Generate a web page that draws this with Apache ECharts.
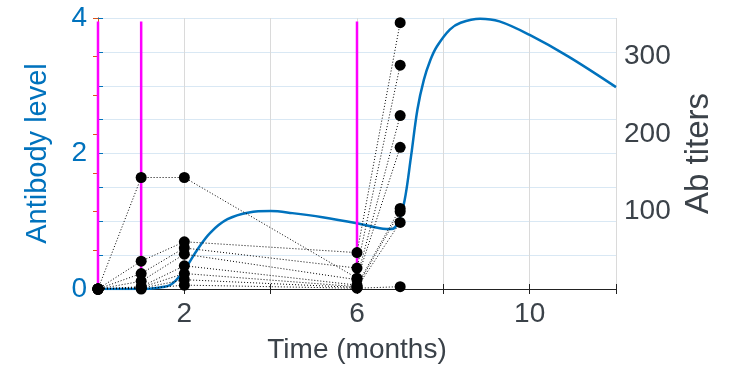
<!DOCTYPE html>
<html>
<head>
<meta charset="utf-8">
<script src="https://cdn.jsdelivr.net/npm/echarts@6/dist/echarts.min.js"></script>
<style>
html, body { margin: 0; padding: 0; background: #fff; }
#chartDom { width: 731px; height: 370px; }
</style>
</head>
<body>
<div id="chartDom"></div>
<script>
// 模型曲线 (左轴 Antibody level)
const modelT = [0, 1.0, 1.4, 1.7, 2.0, 2.3, 2.6, 3.0, 3.5, 4.0, 4.5, 5.2, 6.0, 6.6, 6.8, 6.95, 7.1, 7.25, 7.4, 7.55, 7.7, 7.85, 8.15, 8.4, 8.85, 9.3, 10.0, 10.9, 12.0];
const modelY = [0, 0, 0.02, 0.07, 0.28, 0.58, 0.83, 1.03, 1.13, 1.15, 1.12, 1.06, 0.97, 0.89, 0.885, 0.98, 1.3, 1.95, 2.65, 3.09, 3.38, 3.58, 3.83, 3.93, 3.99, 3.95, 3.75, 3.43, 2.98];

// 接种时间 (洋红竖线)
const doseTimes = [0, 1, 6];
const doseTop = 3.95;

// 抗体滴度 (右轴 Ab titers)
const sampleT = [0, 1, 2, 6, 7];
const titerS1 = [0, 144, 144, 14, 224];
const titerS2 = [0, 36, 61, 47, 344];
const titerS3 = [0, 20, 53, 27, 289];
const titerS4 = [0, 10, 45, 12, 183];
const titerS5 = [0, 3, 30, 5, 104];
const titerS6 = [0, 2, 20, 3, 100];
const titerS7 = [0, 1, 12, 2, 86];
const titerS8 = [0, 0, 5, 1, 3];
const subjects = [titerS1, titerS2, titerS3, titerS4, titerS5, titerS6, titerS7, titerS8];

// 刻度标签
const xLabels = [2, 6, 10];
const yLeftLabels = [0, 2, 4];
const yRightLabels = [100, 200, 300];

const FONT = '"Liberation Sans", Arial, sans-serif';
const BLUE = '#0072BD';
const ORANGE = '#D95319';
const DARK = '#3b4249';

let chart = echarts.init(document.getElementById('chartDom'));

const series = [];
// 模型曲线
series.push({
  type: 'line',
  xAxisIndex: 0,
  yAxisIndex: 0,
  data: modelT.map((t, i) => [t, modelY[i]]),
  smooth: 0.35,
  showSymbol: false,
  lineStyle: { color: BLUE, width: 2.5 },
  z: 3
});
// 接种竖线
doseTimes.forEach(t => {
  series.push({
    type: 'line',
    xAxisIndex: 0,
    yAxisIndex: 0,
    data: [[t, 0], [t, doseTop]],
    showSymbol: false,
    lineStyle: { color: '#FF00FF', width: 2.5 },
    z: 4
  });
});
// 每个受试者的滴度
subjects.forEach(s => {
  series.push({
    type: 'line',
    xAxisIndex: 0,
    yAxisIndex: 1,
    data: sampleT.map((t, i) => [t, s[i]]),
    symbol: 'circle',
    symbolSize: 11,
    itemStyle: { color: '#000' },
    lineStyle: { color: '#000', width: 1, type: [1, 2] },
    z: 5
  });
});

chart.setOption({
  animation: false,
  textStyle: { fontFamily: FONT },
  grid: { left: 98, right: 115, top: 18, bottom: 81 },
  xAxis: [
    {
      type: 'value',
      position: 'bottom',
      min: 0, max: 12, interval: 2,
      name: 'Time (months)',
      nameLocation: 'middle',
      nameGap: 47,
      nameTextStyle: { color: DARK, fontSize: 28, fontFamily: FONT },
      axisLine: { lineStyle: { color: '#222', width: 1 } },
      axisTick: { inside: true, length: 5, lineStyle: { color: '#222' } },
      axisLabel: {
        color: DARK, fontSize: 28, fontFamily: FONT, margin: 11,
        formatter: v => (xLabels.includes(v) ? String(v) : '')
      },
      splitLine: { show: true, lineStyle: { color: '#dadada', width: 1 } }
    },
    {
      type: 'value',
      position: 'top',
      min: 0, max: 12, interval: 2,
      axisLine: { lineStyle: { color: '#222', width: 1 } },
      axisTick: { inside: true, length: 5, lineStyle: { color: '#222' } },
      axisLabel: { show: false },
      splitLine: { show: false }
    }
  ],
  yAxis: [
    {
      type: 'value',
      position: 'left',
      min: 0, max: 4, interval: 0.5,
      name: 'Antibody level',
      nameLocation: 'middle',
      nameGap: 46,
      nameTextStyle: { color: BLUE, fontSize: 29, fontFamily: FONT },
      axisLine: { show: true, lineStyle: { color: BLUE, width: 1 } },
      axisTick: { show: true, inside: true, length: 5, lineStyle: { color: BLUE } },
      axisLabel: {
        color: BLUE, fontSize: 28, fontFamily: FONT, margin: 11,
        formatter: v => (yLeftLabels.includes(v) ? String(v) : '')
      },
      splitLine: { show: true, lineStyle: { color: '#d9e8f4', width: 1 } }
    },
    {
      type: 'value',
      position: 'right',
      min: 0, max: 350, interval: 50,
      name: 'Ab titers',
      nameLocation: 'middle',
      nameGap: 66,
      nameTextStyle: { color: DARK, fontSize: 33, fontFamily: FONT },
      axisLine: { show: true, lineStyle: { color: ORANGE, width: 1 } },
      axisTick: { show: true, inside: true, length: 5, lineStyle: { color: ORANGE } },
      axisLabel: {
        color: DARK, fontSize: 28, fontFamily: FONT, margin: 8,
        formatter: v => (yRightLabels.includes(v) ? String(v) : '')
      },
      splitLine: { show: false }
    }
  ],
  series: series
});
</script>
</body>
</html>
